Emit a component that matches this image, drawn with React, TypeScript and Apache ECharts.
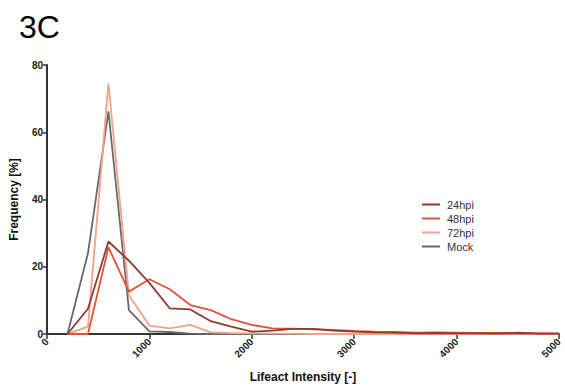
import React, { useEffect, useRef } from "react";
import * as echarts from "echarts";

const intensities = [200, 400, 600, 800, 1000, 1200, 1400, 1600, 1800, 2000, 2200, 2400, 2600, 2800, 3000, 3200, 3400, 3600, 3800, 4000, 4200, 4400, 4600, 4800, 5000];
const hpi24 = [0, 7.5, 27.5, 21.8, 15.2, 7.6, 7.3, 3.8, 2.2, 0.7, 1.0, 1.5, 1.5, 1.0, 0.7, 0.5, 0.4, 0.2, 0.3, 0.2, 0.2, 0.1, 0.3, 0.1, 0.1];
const hpi48 = [0, 0, 25.8, 12.6, 16.3, 13.3, 8.6, 7.1, 4.4, 2.7, 1.7, 1.6, 1.4, 1.2, 0.9, 0.7, 0.6, 0.4, 0.5, 0.4, 0.3, 0.3, 0.4, 0.2, 0.2];
const hpi72 = [0, 2.2, 74.5, 11.5, 2.5, 1.7, 2.7, 0.5, 0.3, 0.2, 0.1, 0.1, 0, 0, 0, 0, 0, 0, 0, 0, 0, 0, 0, 0, 0];
const mock = [0, 24, 66.2, 7.1, 0.8, 0.6, 0.1, 0, 0, 0, 0, 0, 0, 0, 0, 0, 0, 0, 0, 0, 0, 0, 0, 0, 0];

const seriesNames = ["24hpi", "48hpi", "72hpi", "Mock"];
const seriesColors = ["#8e3b30", "#e0533a", "#f4a08a", "#666a6e"];
const seriesData = [hpi24, hpi48, hpi72, mock];

export default function App() {
  const ref = useRef<HTMLDivElement>(null);
  useEffect(() => {
    if (!ref.current) return;
    const chart = echarts.init(ref.current, null, { renderer: "svg" });
    const font = "'Liberation Sans', Arial, sans-serif";
    chart.setOption({
      animation: false,
      backgroundColor: "#ffffff",
      textStyle: { fontFamily: font },
      title: {
        text: "3C",
        left: 14,
        top: 6,
        textStyle: { fontSize: 32, fontWeight: "normal", color: "#000", fontFamily: font },
      },
      legend: {
        orient: "vertical",
        left: 417,
        top: 194,
        itemWidth: 18,
        itemHeight: 2,
        itemGap: 3,
        icon: "rect",
        textStyle: { fontSize: 11, color: "#333", fontFamily: font, padding: [0, 0, 0, 2] },
        data: seriesNames,
      },
      grid: { left: 45, right: 6, top: 65, bottom: 56 },
      xAxis: {
        type: "value",
        min: 0,
        max: 5000,
        interval: 1000,
        name: "Lifeact Intensity [-]",
        nameLocation: "middle",
        nameGap: 37,
        nameTextStyle: { fontSize: 12, fontWeight: "bold", color: "#111", fontFamily: font },
        axisLine: { lineStyle: { color: "#333", width: 2 } },
        axisTick: { show: true, length: 5, inside: false, lineStyle: { color: "#333", width: 1.5 } },
        axisLabel: {
          rotate: 45,
          fontSize: 10,
          fontWeight: "bold",
          color: "#222",
          margin: 6,
          fontFamily: font,
          formatter: (v: number) => String(v),
        },
        splitLine: { show: false },
      },
      yAxis: {
        type: "value",
        min: 0,
        max: 80,
        interval: 20,
        name: "Frequency [%]",
        nameLocation: "middle",
        nameGap: 27,
        nameRotate: 90,
        nameTextStyle: { fontSize: 12, fontWeight: "bold", color: "#111", fontFamily: font },
        axisLine: { show: true, lineStyle: { color: "#333", width: 2 } },
        axisTick: { show: true, length: 4, lineStyle: { color: "#333", width: 1.5 } },
        axisLabel: { fontSize: 10, fontWeight: "bold", color: "#222", margin: 4, fontFamily: font },
        splitLine: { show: false },
      },
      series: seriesNames.map((name, i) => ({
        name,
        type: "line",
        data: intensities.map((x, j) => [x, seriesData[i][j]]),
        showSymbol: false,
        symbol: "none",
        lineStyle: { color: seriesColors[i], width: 1.8 },
        itemStyle: { color: seriesColors[i] },
        z: 10 - i,
      })),
    });
    return () => chart.dispose();
  }, []);
  return (
    <div
      ref={ref}
      style={{ position: "fixed", left: 0, top: 0, width: 565, height: 390 }}
    />
  );
}
